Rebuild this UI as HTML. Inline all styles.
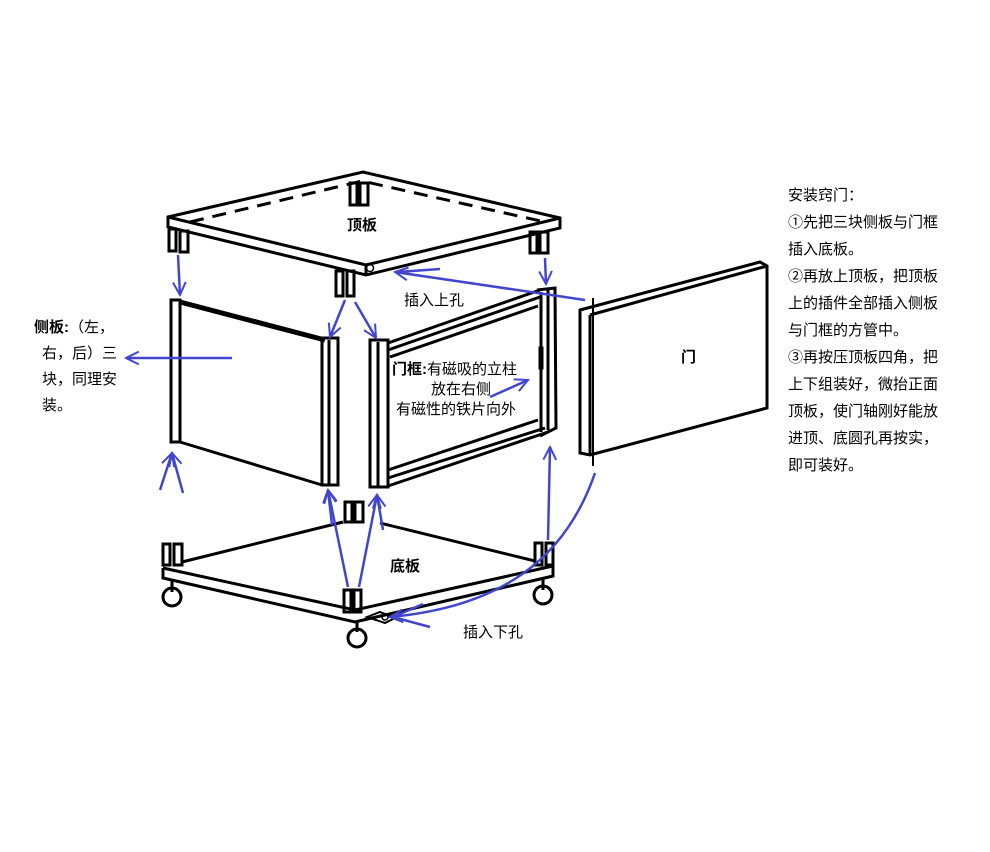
<!DOCTYPE html>
<html><head><meta charset="utf-8"><style>
html,body{margin:0;padding:0;background:#fff;}
svg{display:block;}
text{font-family:"Liberation Sans","Noto Sans CJK SC",sans-serif;fill:#000;}
</style></head><body>
<svg width="990" height="852" viewBox="0 0 990 852" xmlns="http://www.w3.org/2000/svg">
<defs>
<marker id="ah" viewBox="0 0 20 20" refX="18" refY="10" markerWidth="16" markerHeight="16" markerUnits="userSpaceOnUse" orient="auto">
<path d="M2,2 L18,10 L2,18" fill="none" stroke="#4246cf" stroke-width="2.5"/>
</marker>
</defs>
<g fill="none" stroke="#000" stroke-width="3">
<!-- top plate -->
<path d="M168,217 L363,172 L560,218 L560,228 L366,275 L168,227 Z"/>
<path d="M168,217 L366,265 L560,218"/>
<line x1="366" y1="265" x2="366" y2="275"/>
<path d="M190,222 L362,181 L545,222" stroke-dasharray="14,9"/>
<rect x="169" y="229" width="7" height="22"/><rect x="180" y="231" width="8" height="21"/>
<rect x="350" y="183" width="7" height="22"/><rect x="360" y="183" width="8" height="22"/>
<rect x="530" y="232" width="7" height="21"/><rect x="540" y="232" width="8" height="21"/>
<rect x="336" y="271" width="7" height="25"/><rect x="347" y="271" width="7" height="25"/>
<circle cx="370" cy="268" r="3.5" stroke-width="1.5"/>
<!-- side panel -->
<rect x="171" y="300" width="9" height="142"/>
<path d="M180,302 L325,340" stroke-width="5"/>
<path d="M180,442 L322,485"/>
<rect x="322" y="338" width="16" height="147"/>
<line x1="329" y1="340" x2="329" y2="485"/>
<!-- door frame -->
<rect x="370" y="340" width="18" height="147"/>
<line x1="378" y1="342" x2="378" y2="487"/>
<path d="M388,343 L540,290"/>
<path d="M388,350 L540,297"/>
<path d="M390,357 L538,306"/>
<path d="M537,290 L555,288 L556,428 L540,436"/>
<line x1="541" y1="292" x2="541" y2="432"/>
<line x1="548" y1="290" x2="548" y2="430"/>
<path d="M388,470 L538,420"/>
<path d="M388,478 L545,428"/>
<path d="M388,486 L548,432"/>
<rect x="540" y="348" width="2" height="20" fill="#000"/>
<!-- door -->
<path d="M580,310 L760,262 L767,266 L767,408 L590,455 L580,453 Z"/>
<path d="M590,315 L767,266"/>
<line x1="590" y1="315" x2="590" y2="455"/>
<line x1="593" y1="298" x2="593" y2="466" stroke-width="2"/>
<!-- bottom plate -->
<path d="M163,568 L355,610 L553,566"/>
<path d="M163,568 L163,578 L355,622 L553,576 L553,566"/>
<path d="M182,562 L343,522"/>
<path d="M380,523 L535,561"/>
<rect x="163" y="544" width="7" height="21"/><rect x="174" y="544" width="8" height="21"/>
<rect x="345" y="502" width="7" height="20"/><rect x="355" y="502" width="8" height="20"/>
<rect x="535" y="543" width="7" height="22"/><rect x="546" y="543" width="7" height="22"/>
<rect x="344" y="590" width="7" height="22"/><rect x="354" y="590" width="7" height="22"/>
<circle cx="172" cy="597" r="9"/><line x1="172" y1="580" x2="172" y2="592"/>
<circle cx="357" cy="638" r="9"/><line x1="357" y1="622" x2="357" y2="632"/>
<circle cx="543" cy="595" r="9"/><line x1="543" y1="578" x2="543" y2="590"/>
<path d="M367,617 L380,612 L395,618 L385,623 Z" stroke-width="2"/>
<circle cx="385" cy="617" r="3" stroke-width="1.5"/>
</g>
<g fill="none" stroke="#4246cf" stroke-width="2.5" marker-end="url(#ah)">
<line x1="178" y1="255" x2="180" y2="295"/>
<line x1="345" y1="300" x2="330" y2="337"/>
<line x1="355" y1="302" x2="376" y2="338"/>
<line x1="545" y1="258" x2="546" y2="284"/>
<line x1="585" y1="300" x2="395" y2="272"/>
<line x1="232" y1="358" x2="126" y2="358"/>
<line x1="490" y1="397" x2="528" y2="380"/>
<line x1="160" y1="490" x2="172" y2="453"/>
<line x1="183" y1="493" x2="172" y2="453"/>
<line x1="332" y1="525" x2="328" y2="490"/>
<line x1="348" y1="587" x2="328" y2="490"/>
<line x1="359" y1="587" x2="377" y2="495"/>
<line x1="383" y1="530" x2="377" y2="495"/>
<line x1="548" y1="540" x2="550" y2="447"/>
<path d="M595,473 C565,560 500,607 390,617"/>
</g>
<g stroke="#4246cf" stroke-width="2.5">
<line x1="440" y1="269" x2="398" y2="272"/>
<line x1="430" y1="627" x2="393" y2="617"/>
<line x1="423" y1="604" x2="393" y2="617"/>
</g>
<g font-size="15">
<text x="347" y="230" font-weight="bold">顶板</text>
<text x="404" y="305">插入上孔</text>
<text x="390" y="571" font-weight="bold">底板</text>
<text x="463" y="637">插入下孔</text>
<text x="681" y="362" font-weight="bold">门</text>
<text x="392" y="374"><tspan font-weight="bold">门框:</tspan>有磁吸的立柱</text>
<text x="431" y="394">放在右侧</text>
<text x="396" y="414">有磁性的铁片向外</text>
<text x="34" y="332"><tspan font-weight="bold">侧板:</tspan>（左，</text>
<text x="42" y="358">右，后）三</text>
<text x="42" y="384">块，同理安</text>
<text x="42" y="410">装。</text>
<text x="788" y="200">安装窍门：</text>
<text x="788" y="227">①先把三块侧板与门框</text>
<text x="788" y="254">插入底板。</text>
<text x="788" y="281">②再放上顶板，把顶板</text>
<text x="788" y="308">上的插件全部插入侧板</text>
<text x="788" y="335">与门框的方管中。</text>
<text x="788" y="362">③再按压顶板四角，把</text>
<text x="788" y="389">上下组装好，微抬正面</text>
<text x="788" y="416">顶板，使门轴刚好能放</text>
<text x="788" y="443">进顶、底圆孔再按实，</text>
<text x="788" y="470">即可装好。</text>
</g>
</svg>
</body></html>
